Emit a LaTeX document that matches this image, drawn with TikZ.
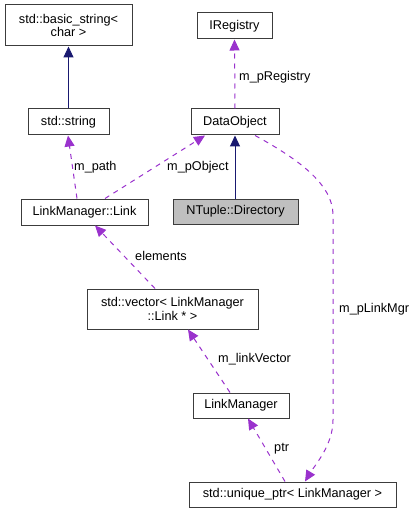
\documentclass[tikz,border=0pt]{standalone}
\usepackage{fontspec}
\setmainfont{Liberation Sans}
\usetikzlibrary{arrows.meta}
\definecolor{navyedge}{RGB}{25,25,112}
\definecolor{usedge}{RGB}{154,50,205}
\definecolor{boxline}{RGB}{60,60,60}
\definecolor{curfill}{RGB}{191,191,191}
\tikzset{
  cls/.style={draw=boxline, line width=1pt, fill=white, rectangle, inner sep=0pt, align=center, font=\fontsize{12.7}{13.5}\selectfont},
  inh/.style={draw=navyedge, line width=1pt, -{Triangle[length=11pt,width=10pt]}},
  use/.style={draw=usedge, line width=1pt, dash pattern=on 5pt off 5pt, -{Triangle[length=11pt,width=10pt]}},
  lbl/.style={font=\fontsize{12.7}{13.5}\selectfont, inner sep=0pt, anchor=west}
}
\begin{document}
\begin{tikzpicture}[x=1pt,y=-1pt]
\useasboundingbox (0,0) rectangle (417,513);
\node[cls, minimum width=127pt, minimum height=41pt] (bs) at (68.5,25.5) {std::basic\_string<\\char >};
\node[cls, minimum width=81pt, minimum height=26pt] (str) at (68.5,122) {std::string};
\node[cls, minimum width=75pt, minimum height=26pt] (ireg) at (234.5,26) {IRegistry};
\node[cls, minimum width=88pt, minimum height=26pt] (dobj) at (235,122) {DataObject};
\node[cls, fill=curfill, minimum width=125pt, minimum height=25pt] (ntd) at (235.5,211.5) {NTuple::Directory};
\node[cls, minimum width=127pt, minimum height=26pt] (link) at (84.5,212) {LinkManager::Link};
\node[cls, minimum width=171pt, minimum height=40pt] (vec) at (172.5,309) {std::vector< LinkManager\\::Link * >};
\node[cls, minimum width=96pt, minimum height=25pt] (lm) at (241,405.5) {LinkManager};
\node[cls, minimum width=207pt, minimum height=25pt] (up) at (292.5,494.5) {std::unique\_ptr< LinkManager >};

\draw[inh] (str.north) -- (bs.south);
\draw[inh] (ntd.north -| dobj.south) -- (dobj.south);
\draw[use] (dobj.north) -- (ireg.south);
\draw[use] ([xshift=8.5pt]str.south |- link.north) -- ([xshift=-0.5pt]str.south);
\draw[use] ([xshift=20.5pt]link.north) -- ([xshift=-30pt]dobj.south);
\draw[use] ([xshift=-17.5pt]vec.north) -- ([xshift=10.5pt]link.south);
\draw[use] ([xshift=-11pt]lm.north) -- ([xshift=15.5pt]vec.south);
\draw[use] ([xshift=-7.5pt]up.north) -- ([xshift=7pt]lm.south);
\draw[use] ([xshift=20pt]dobj.south) .. controls (300,160) and (333,185) .. (333,215) -- (333,420) .. controls (333,445) and (315,465) .. ([xshift=12.5pt]up.north);

\node[lbl] (l1) at (239,77) {m\_pRegistry};
\node[lbl] (l2) at (74,167) {m\_path};
\node[lbl] (l3) at (167,167) {m\_pObject};
\node[lbl] (l4) at (135,256) {elements};
\node[lbl] (l5) at (218,359) {m\_linkVector};
\node[lbl] (l6) at (274,449) {ptr};
\node[lbl] (l7) at (339,309) {m\_pLinkMgr};
\end{tikzpicture}
\end{document}
